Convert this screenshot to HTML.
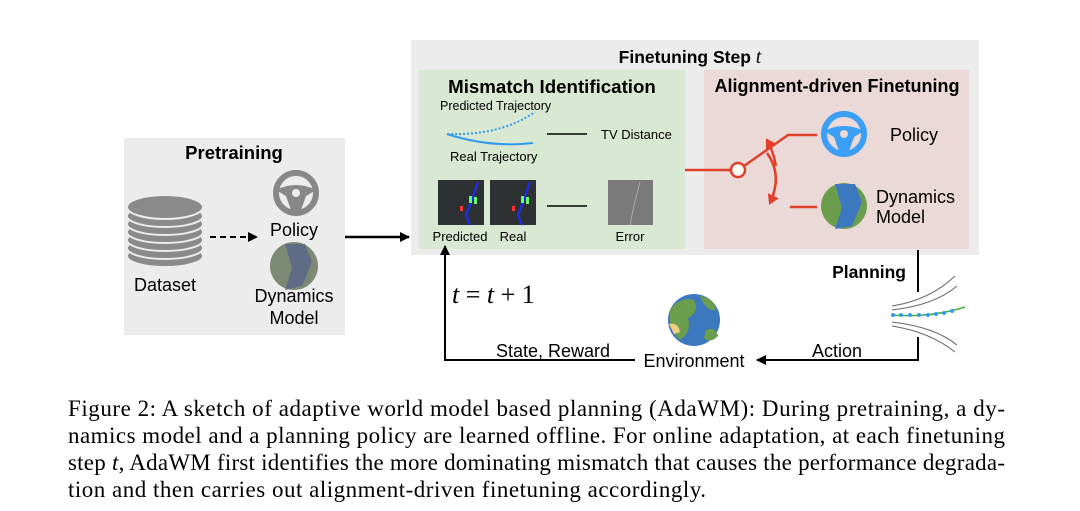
<!DOCTYPE html>
<html><head><style>
body{margin:0;background:#fff;}
svg{display:block;}
.s{font-family:"Liberation Sans",sans-serif;}
.cap{font-family:"Liberation Serif",serif;font-size:23px;}
</style></head><body>
<svg width="1080" height="511" viewBox="0 0 1080 511" xmlns="http://www.w3.org/2000/svg">
<defs>
<marker id="ab" markerWidth="10" markerHeight="10" refX="9" refY="5" orient="auto" markerUnits="userSpaceOnUse"><path d="M0,0 L10,5 L0,10 z" fill="#000"/></marker>
<marker id="ar" markerWidth="12" markerHeight="12" refX="8" refY="6" orient="auto" markerUnits="userSpaceOnUse"><path d="M0,0 L10,6 L0,12 z" fill="#e0402a"/></marker>
</defs>
<!-- Pretraining -->
<rect x="124" y="138" width="221" height="197" fill="#ececec"/>
<text class="s" x="234" y="159" font-size="18.5" font-weight="bold" text-anchor="middle">Pretraining</text>
<g fill="#8a8a8a" stroke="#ececec" stroke-width="2">
<ellipse cx="165" cy="256" rx="38" ry="11"/>
<ellipse cx="165" cy="248" rx="38" ry="11"/>
<ellipse cx="165" cy="240" rx="38" ry="11"/>
<ellipse cx="165" cy="232" rx="38" ry="11"/>
<ellipse cx="165" cy="224" rx="38" ry="11"/>
<ellipse cx="165" cy="216" rx="38" ry="11"/>
<ellipse cx="165" cy="207" rx="38" ry="12"/>
</g>
<text class="s" x="165" y="291" font-size="18" text-anchor="middle">Dataset</text>
<line x1="210" y1="237" x2="257" y2="237" stroke="#000" stroke-width="2" stroke-dasharray="6,4" marker-end="url(#ab)"/>
<circle cx="296" cy="193" r="20" fill="none" stroke="#888" stroke-width="6"/>
<path d="M276,190 Q296,180 316,190 L306,196 L300,213 L292,213 L286,196 Z" fill="#888"/>
<circle cx="296" cy="193" r="4" fill="#ececec"/>
<text class="s" x="294" y="236" font-size="18" text-anchor="middle">Policy</text>
<circle cx="294" cy="266" r="24" fill="#7d8a73"/>
<path d="M285,244 L305,244 L312,262 L302,286 L285,290 L292,268 Z" fill="#5f6c86"/>
<text class="s" x="294" y="302" font-size="18" text-anchor="middle">Dynamics</text>
<text class="s" x="294" y="324" font-size="18" text-anchor="middle">Model</text>
<line x1="345" y1="237" x2="409" y2="237" stroke="#000" stroke-width="2.5" marker-end="url(#ab)"/>
<!-- Finetuning -->
<rect x="411" y="40" width="568" height="215" fill="#ececec"/>
<text class="s" x="690" y="63" font-size="17.5" font-weight="bold" text-anchor="middle">Finetuning Step <tspan font-family="Liberation Serif" font-style="italic" font-weight="normal" font-size="20">t</tspan></text>
<rect x="419" y="70" width="266" height="179" fill="#d9e8d3"/>
<rect x="704" y="70" width="265" height="179" fill="#ead9d7"/>
<text class="s" x="552" y="93" font-size="18.7" font-weight="bold" text-anchor="middle">Mismatch Identification</text>
<text class="s" x="440" y="110" font-size="12.5">Predicted Trajectory</text>
<path d="M447,134 Q500,136 535,112" fill="none" stroke="#3399ee" stroke-width="2" stroke-dasharray="2,2"/>
<path d="M447,134 Q490,148 533,143" fill="none" stroke="#3399ee" stroke-width="2"/>
<line x1="547" y1="134" x2="587" y2="134" stroke="#000" stroke-width="1.5"/>
<text class="s" x="601" y="139" font-size="13">TV Distance</text>
<text class="s" x="450" y="161" font-size="13">Real Trajectory</text>
<rect x="438" y="180" width="46" height="45" fill="#2e3134"/>
<path d="M478,182 L470,205 L466,215 L470,225" stroke="#1a2cff" stroke-width="2" fill="none"/>
<rect x="469" y="196" width="3" height="7" fill="#6f6"/><rect x="474" y="197" width="3" height="7" fill="#6f6"/><rect x="460" y="206" width="3" height="5" fill="#f33"/>
<rect x="490" y="180" width="46" height="45" fill="#2e3134"/>
<path d="M530,182 L522,205 L518,215 L522,225" stroke="#1a2cff" stroke-width="2" fill="none"/>
<rect x="521" y="196" width="3" height="7" fill="#6f6"/><rect x="526" y="197" width="3" height="7" fill="#6f6"/><rect x="512" y="206" width="3" height="5" fill="#f33"/>
<line x1="547" y1="206" x2="587" y2="206" stroke="#000" stroke-width="1.5"/>
<rect x="608" y="180" width="45" height="45" fill="#7a7a7a"/>
<path d="M640,182 L634,205 L630,225" stroke="#aa9" stroke-width="1" fill="none"/>
<text class="s" x="460" y="241" font-size="13" text-anchor="middle">Predicted</text>
<text class="s" x="513" y="241" font-size="13" text-anchor="middle">Real</text>
<text class="s" x="630" y="241" font-size="13" text-anchor="middle">Error</text>
<text class="s" x="837" y="92" font-size="18" font-weight="bold" text-anchor="middle">Alignment-driven Finetuning</text>
<line x1="685" y1="170" x2="731" y2="170" stroke="#e0402a" stroke-width="2.5"/>
<circle cx="738" cy="170" r="7" fill="#fff" stroke="#e0402a" stroke-width="2.5"/>
<polyline points="744,166 788,135 817,135" fill="none" stroke="#e0402a" stroke-width="2.5"/>
<path d="M767,153 Q783,175 770,203" fill="none" stroke="#e0402a" stroke-width="2.5" marker-end="url(#ar)"/>
<path d="M776,166 Q773,150 767,140" fill="none" stroke="#e0402a" stroke-width="2.5" marker-end="url(#ar)"/>
<line x1="790" y1="207" x2="817" y2="207" stroke="#e0402a" stroke-width="2.5"/>
<circle cx="844" cy="134" r="20" fill="none" stroke="#3a9ff5" stroke-width="6"/>
<path d="M824,131 Q844,121 864,131 L854,137 L848,154 L840,154 L834,137 Z" fill="#3a9ff5"/>
<circle cx="844" cy="134" r="4" fill="#ead9d7"/>
<text class="s" x="890" y="141" font-size="18">Policy</text>
<circle cx="844" cy="206" r="23" fill="#6a9e4c"/>
<path d="M835,184 L855,184 L862,202 L852,226 L835,229 L842,208 Z" fill="#3c78bf"/>
<text class="s" x="876" y="203" font-size="18">Dynamics</text>
<text class="s" x="876" y="223" font-size="18">Model</text>
<!-- loop -->
<line x1="918" y1="250" x2="918" y2="292" stroke="#000" stroke-width="2"/>
<text class="s" x="906" y="278" font-size="17.5" font-weight="bold" text-anchor="end">Planning</text>
<g fill="none" stroke="#666" stroke-width="1">
<path d="M892,306 Q930,300 955,276"/><path d="M892,310 Q935,305 957,286"/>
<path d="M892,322 Q935,327 957,345"/><path d="M892,326 Q930,332 955,352"/>
</g>
<path d="M892,315 Q930,318 965,307" fill="none" stroke="#3cb43c" stroke-width="1.5"/>
<g fill="#3399ee"><circle cx="893" cy="315" r="2"/><circle cx="901" cy="315" r="2"/><circle cx="910" cy="315" r="2"/><circle cx="919" cy="315" r="2"/><circle cx="928" cy="315" r="2"/><circle cx="936" cy="314" r="2"/><circle cx="944" cy="313" r="2"/><circle cx="952" cy="311" r="2"/></g>
<polyline points="918,337 918,360 757,360" fill="none" stroke="#000" stroke-width="2" marker-end="url(#ab)"/>
<text class="s" x="837" y="357" font-size="18" text-anchor="middle">Action</text>
<circle cx="694" cy="320" r="26" fill="#3c78bf"/>
<path d="M670,310 Q680,296 694,300 Q700,312 688,318 Q692,332 680,340 Q668,330 670,310 Z" fill="#6a9e4c"/>
<path d="M700,296 Q714,298 716,310 Q706,312 700,296 Z M706,330 Q716,326 718,336 Q710,344 704,338 Z" fill="#6a9e4c"/>
<path d="M669,324 Q678,322 680,332 L674,334 Z" fill="#f0d080"/>
<text class="s" x="694" y="367" font-size="18" text-anchor="middle">Environment</text>
<polyline points="635,360 445,360 445,246" fill="none" stroke="#000" stroke-width="2" marker-end="url(#ab)"/>
<text class="s" x="553" y="357" font-size="18" text-anchor="middle">State, Reward</text>
<text x="452" y="303" font-family="Liberation Serif" font-size="26"><tspan font-style="italic">t</tspan> = <tspan font-style="italic">t</tspan> + 1</text>
<!-- caption -->
<text class="cap" x="68" y="416" textLength="937" lengthAdjust="spacing">Figure 2: A sketch of adaptive world model based planning (AdaWM): During pretraining, a dy-</text>
<text class="cap" x="68" y="443" textLength="937" lengthAdjust="spacing">namics model and a planning policy are learned offline. For online adaptation, at each finetuning</text>
<text class="cap" x="68" y="470" textLength="937" lengthAdjust="spacing">step <tspan font-style="italic">t</tspan>, AdaWM first identifies the more dominating mismatch that causes the performance degrada-</text>
<text class="cap" x="68" y="497" textLength="638" lengthAdjust="spacing">tion and then carries out alignment-driven finetuning accordingly.</text>
</svg>
</body></html>
